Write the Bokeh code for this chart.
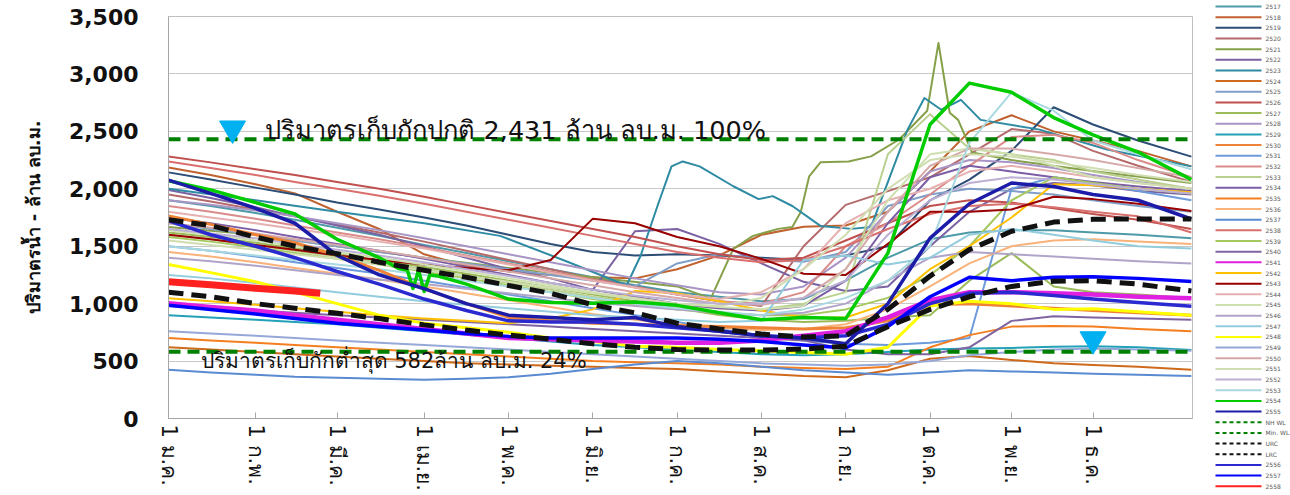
from bokeh.plotting import figure
from bokeh.layouts import row
from bokeh.models import (FixedTicker, NumeralTickFormatter, Range1d, Label)
from bokeh.embed import file_html
from bokeh.resources import INLINE
from bokeh.core.properties import value

# ---------------- data ----------------
# day-of-year grid used by most series
G = [0, 15, 31, 45, 60, 75, 91, 106, 121, 136, 151, 166, 181, 196, 211, 226, 241, 256, 271, 285, 300, 315, 329, 345, 364]

TICK_DAYS = [0, 31, 60, 91, 121, 151, 181, 211, 241, 271, 300, 329]
TICK_LABELS = ["1 ม.ค.", "1 ก.พ.", "1 มี.ค.", "1 เม.ย.", "1 พ.ค.", "1 มิ.ย.",
               "1 ก.ค.", "1 ส.ค.", "1 ก.ย.", "1 ต.ค.", "1 พ.ย.", "1 ธ.ค."]
Y_TICKS = [0, 500, 1000, 1500, 2000, 2500, 3000, 3500]

NH_WL = 2431
MIN_WL = 582

Y2517 = [1900,1850,1790,1730,1660,1590,1510,1440,1370,1300,1230,1160,1100,1060,1020,1040,1200,1400,1560,1620,1640,1640,1620,1600,1570]
Y2518 = [2186,2120,2040,1960,1800,1650,1430,1330,1280,1250,1230,1220,1300,1420,1600,1670,1680,1800,2150,2500,2640,2500,2420,2330,2195]
Y2519 = [2143,2080,2010,1950,1880,1820,1750,1680,1600,1520,1450,1420,1430,1420,1400,1380,1420,1500,1900,2080,2330,2710,2560,2420,2280]
Y2520 = [1950,1890,1820,1760,1690,1620,1540,1460,1380,1300,1220,1150,1080,1020,980,1500,1860,1980,2100,2300,2520,2480,2330,2200,2060]
D2521 = [0,31,60,91,121,151,181,193,201,208,217,222,225,228,232,242,250,260,270,274,278,281,286,300,330,364]
Y2521 = [1668,1600,1500,1400,1310,1230,1150,1046,1478,1590,1651,1668,1798,2109,2230,2238,2282,2429,2680,3270,2662,2600,2316,2250,2150,2050]
Y2522 = [1990,1920,1840,1760,1680,1600,1500,1400,1300,1220,1120,1630,1650,1520,1350,1190,1110,1150,1500,1800,2000,2050,2030,1980,1950]
D2523 = [0,31,60,91,118,142,163,168,174,179,183,189,201,210,215,222,232,243,250,263,269,275,282,289,310,334,364]
Y2523 = [2000,1900,1800,1700,1590,1365,1158,1417,1850,2195,2238,2195,2022,1910,1936,1850,1677,1651,1668,2515,2790,2688,2774,2600,2515,2342,2195]
Y2524 = [620,600,580,560,540,520,500,480,470,460,450,440,430,410,390,370,360,420,520,545,510,480,465,450,424]
Y2525 = [1700,1650,1600,1550,1500,1450,1400,1350,1300,1250,1200,1150,1350,1430,1390,1365,1450,1850,1950,2000,1980,1950,1900,1850,1800]
Y2526 = [2282,2230,2170,2120,2060,2000,1930,1860,1790,1720,1650,1580,1500,1430,1380,1400,1550,1700,1850,1900,1880,1830,1780,1730,1650]
Y2527 = [1620,1580,1530,1480,1430,1380,1320,1260,1200,1140,1080,1020,960,900,860,840,850,880,900,1200,1440,1150,1100,1080,1050]
Y2528 = [1900,1860,1810,1760,1700,1640,1570,1500,1430,1360,1290,1220,1160,1100,1080,1150,1400,1800,2150,2250,2230,2180,2120,2060,2000]
Y2529 = [899,880,860,840,820,790,760,730,700,670,640,620,600,580,560,550,560,580,600,610,614,625,630,620,596]
Y2530 = [1763,1690,1600,1530,1420,1290,1130,1000,880,850,830,820,810,800,790,780,790,850,990,1000,980,960,940,920,900]
Y2531 = [1500,1460,1410,1360,1310,1260,1200,1140,1080,1020,960,900,840,780,720,680,650,640,660,700,2000,2100,2050,1980,1900]
Y2532 = [1850,1800,1740,1680,1620,1560,1490,1420,1350,1280,1210,1140,1080,1020,1000,1100,1500,1700,1950,2200,2450,2470,2400,2250,2100]
Y2533 = [1600,1560,1510,1460,1410,1360,1300,1240,1180,1120,1060,1010,980,960,950,1000,1100,2300,2650,2350,2300,2250,2150,2080,2000]
Y2534 = [1750,1700,1640,1580,1520,1460,1390,1320,1250,1180,1120,1060,1000,960,940,980,1200,1700,2100,2200,2150,2100,2060,2020,1980]
Y2535 = [700,680,660,640,620,600,580,560,540,520,500,490,480,470,450,440,430,450,620,726,800,805,800,780,760]
Y2536 = [1450,1410,1360,1310,1260,1210,1150,1090,1030,970,910,860,820,790,770,780,820,950,1150,1350,1500,1550,1560,1540,1520]
Y2537 = [424,400,380,363,355,345,337,345,360,390,430,470,500,480,450,420,400,380,400,420,410,400,390,380,370]
Y2538 = [2238,2180,2120,2060,2000,1940,1870,1800,1730,1660,1590,1520,1450,1400,1360,1380,1500,1650,1780,1850,1870,1840,1800,1760,1620]
Y2539 = [1580,1540,1490,1440,1390,1340,1280,1220,1160,1100,1040,990,950,920,900,900,950,1050,1250,1500,1900,2100,2050,2000,1960]
Y2540 = [980,960,940,920,900,880,860,840,820,800,780,760,740,720,700,680,600,560,560,620,850,890,880,870,860]
Y2541 = [1003,970,940,900,860,820,780,740,700,690,680,670,660,660,680,720,760,880,1030,1100,1100,1090,1080,1060,1046]
Y2542 = [1046,1020,990,960,930,900,870,850,830,870,950,1110,1090,1020,940,880,880,1000,1300,1500,1750,2040,2030,2000,1970]
Y2543 = [1600,1560,1510,1470,1420,1380,1340,1310,1290,1380,1740,1700,1580,1500,1390,1260,1250,1520,1800,1800,1820,1930,1910,1870,1806]
Y2544 = [1800,1750,1700,1650,1600,1540,1480,1410,1340,1270,1200,1140,1080,1040,1100,1300,1700,1900,2000,2150,2200,2150,2100,2050,2000]
Y2545 = [1640,1600,1550,1500,1450,1400,1340,1280,1220,1160,1100,1050,1000,970,950,980,1300,1900,2300,2350,2300,2200,2100,2050,2000]
Y2546 = [1400,1370,1330,1290,1250,1210,1170,1130,1090,1050,1010,980,950,920,900,920,1000,1200,1400,1450,1430,1410,1390,1370,1350]
Y2547 = [1250,1220,1180,1140,1100,1060,1020,990,960,930,900,880,860,840,850,1380,1420,1340,1400,1600,1650,1600,1550,1500,1480]
Y2548 = [1340,1270,1190,1100,1000,900,830,790,750,700,670,630,620,600,590,575,560,620,980,1020,1000,950,955,930,900]
Y2549 = [760,740,720,700,680,660,640,620,600,580,560,540,520,500,480,470,460,470,500,550,580,600,610,600,590]
Y2550 = [1700,1660,1610,1560,1510,1460,1400,1340,1280,1220,1160,1100,1050,1000,990,1050,1300,1800,2200,2350,2350,2300,2250,2180,2100]
Y2551 = [1550,1510,1470,1430,1390,1340,1290,1240,1190,1140,1090,1040,1000,980,1050,1300,1600,2000,2250,2300,2280,2230,2180,2120,2060]
Y2552 = [1650,1610,1570,1520,1470,1420,1360,1300,1240,1180,1120,1070,1030,1000,1000,1050,1200,1600,1900,2050,2100,2080,2040,2000,1960]
Y2553 = [1500,1460,1420,1380,1340,1300,1250,1200,1150,1100,1050,1000,960,930,900,950,1050,1200,1500,2400,2840,2680,2420,2300,2170]
D2554 = [0,15,31,45,60,75,82,85,87,89,91,93,96,106,121,136,151,166,181,196,211,226,241,256,271,285,300,315,329,345,364]
Y2554 = [2070,1990,1880,1780,1560,1400,1305,1290,1132,1290,1106,1250,1240,1170,1040,1010,1003,1015,985,920,860,880,870,1440,2560,2920,2840,2620,2470,2320,2080]
Y2555 = [2075,1960,1830,1700,1420,1250,1130,1000,900,880,860,880,800,760,720,700,650,1000,1570,1870,2050,2020,1950,1900,1737]
Y2556 = [1720,1600,1500,1400,1280,1170,1040,940,850,840,840,820,790,760,720,700,720,820,1000,1090,1100,1070,1040,1010,977]
Y2557 = [986,950,910,870,830,800,770,740,715,700,700,700,700,690,670,640,614,800,1060,1230,1200,1230,1235,1220,1193]
D2558 = [0,15,31,45,54]
Y2558 = [1190,1165,1135,1110,1090]
URC = [1730,1680,1580,1500,1435,1360,1290,1230,1158,1090,990,920,830,780,735,710,720,950,1240,1470,1630,1710,1735,1737,1737]
LRC = [1100,1060,1000,960,916,870,815,770,726,690,650,620,600,596,596,605,630,800,950,1060,1150,1195,1200,1170,1110]

MARK_DAYS = [22.8, 329]
MARK_VALS = [2525, 690]
TXT_NH = "ปริมาตรเก็บกักปกติ 2,431 ล้าน ลบ.ม. 100%"
TXT_MIN = "ปริมาตรเก็บกักต่ำสุด 582ล้าน ลบ.ม. 24%"
Y_TITLE = "ปริมาตรน้ำ - ล้าน ลบ.ม."

# ---------------- assembly ----------------
YEARS = {2517: Y2517, 2518: Y2518, 2519: Y2519, 2520: Y2520, 2521: Y2521, 2522: Y2522,
         2523: Y2523, 2524: Y2524, 2525: Y2525, 2526: Y2526, 2527: Y2527, 2528: Y2528,
         2529: Y2529, 2530: Y2530, 2531: Y2531, 2532: Y2532, 2533: Y2533, 2534: Y2534,
         2535: Y2535, 2536: Y2536, 2537: Y2537, 2538: Y2538, 2539: Y2539, 2540: Y2540,
         2541: Y2541, 2542: Y2542, 2543: Y2543, 2544: Y2544, 2545: Y2545, 2546: Y2546,
         2547: Y2547, 2548: Y2548, 2549: Y2549, 2550: Y2550, 2551: Y2551, 2552: Y2552,
         2553: Y2553, 2554: Y2554, 2555: Y2555, 2556: Y2556, 2557: Y2557, 2558: Y2558}
DAYS = {2521: D2521, 2523: D2523, 2554: D2554, 2558: D2558}

COLORS = {2517: "#4E9AA8", 2518: "#C0622F", 2519: "#2C4D75", 2520: "#B56B6B", 2521: "#86A04A",
          2522: "#7B62A3", 2523: "#2E8BA3", 2524: "#CF6A1C", 2525: "#7F9FC8", 2526: "#C0504D",
          2527: "#9BBB59", 2528: "#A895C5", 2529: "#23A1B8", 2530: "#EE8236", 2531: "#6C9BDB",
          2532: "#D98C8A", 2533: "#B9D08E", 2534: "#7B5EA6", 2535: "#F57F20", 2536: "#F9B27A",
          2537: "#5A8AD0", 2538: "#D9706E", 2539: "#A5C85F", 2540: "#8064A2", 2541: "#E020E0",
          2542: "#FFC000", 2543: "#990000", 2544: "#E6B0B0", 2545: "#CFE0B0", 2546: "#B0A4C8",
          2547: "#93CDDD", 2548: "#FFFF00", 2549: "#95A8D8", 2550: "#D6A9A9", 2551: "#D0DDB0",
          2552: "#BCB0D4", 2553: "#A8D8E0", 2554: "#00CC00", 2555: "#1C1CA8", 2556: "#2A2AD0",
          2557: "#0000FF", 2558: "#FF2020"}
WIDTHS = {2530: 3.0, 2541: 4.5, 2548: 3.0, 2554: 3.5, 2555: 3.5, 2556: 3.5, 2557: 3.5, 2558: 7.0}
TOP_ORDER = [2530, 2548, 2541, 2554, 2556, 2557, 2555]

FONT_NUM = "DejaVu Sans"
FONT_TH = "DejaVu Sans"

W_MAIN, W_LEG, H = 1198, 92, 493

p = figure(width=W_MAIN, height=H, x_range=Range1d(0, 364.4), y_range=Range1d(0, 3500),
           output_backend="svg", toolbar_location=None,
           min_border_left=168, min_border_right=6, min_border_top=16, min_border_bottom=72)
p.background_fill_color = "white"
p.border_fill_color = "white"
p.outline_line_color = "#BFBFBF"

def draw(yr):
    xs = DAYS.get(yr, G)
    p.line(xs, YEARS[yr], line_color=COLORS[yr], line_width=WIDTHS.get(yr, 2.0),
           line_join="round")

for yr in sorted(YEARS):
    if yr not in TOP_ORDER and yr != 2558:
        draw(yr)
for yr in TOP_ORDER:
    draw(yr)

ends = [0, 364.4]
p.line(ends, [NH_WL, NH_WL], line_color="#008000", line_width=4, line_dash="12 7")
p.line(ends, [MIN_WL, MIN_WL], line_color="#008000", line_width=4, line_dash="12 7")
p.line(G, URC, line_color="#111111", line_width=5, line_dash="15 8")
p.line(G, LRC, line_color="#111111", line_width=5, line_dash="15 8")
draw(2558)

p.scatter(MARK_DAYS, MARK_VALS, marker="inverted_triangle", size=26, fill_color="#00B0F0",
          line_color="#00B0F0")

p.add_layout(Label(x=34.5, y=2515, text=TXT_NH, text_font=FONT_TH, text_font_size="25.5px",
                   text_baseline="middle", text_color="#111111"))
p.add_layout(Label(x=11.4, y=500, text=TXT_MIN, text_font=FONT_TH, text_font_size="21px",
                   text_baseline="middle", text_color="#111111"))

# axes
p.xgrid.visible = False
p.ygrid.grid_line_color = "#C8C8C8"
p.ygrid.ticker = FixedTicker(ticks=Y_TICKS)

ya = p.yaxis[0]
ya.ticker = FixedTicker(ticks=Y_TICKS)
ya.formatter = NumeralTickFormatter(format="0,0")
ya.major_label_text_font = FONT_NUM
ya.major_label_text_font_style = "bold"
ya.major_label_text_font_size = "22px"
ya.major_label_text_color = "#111111"
ya.major_tick_out = 0
ya.major_tick_in = 0
ya.minor_tick_out = 0
ya.minor_tick_in = 0
ya.major_label_standoff = 30
ya.axis_line_color = "#A6A6A6"
ya.axis_label = Y_TITLE
ya.axis_label_text_font = FONT_TH
ya.axis_label_text_font_style = "bold"
ya.axis_label_text_font_size = "18px"
ya.axis_label_standoff = 22
ya.axis_label_text_color = "#111111"

xa = p.xaxis[0]
xa.ticker = FixedTicker(ticks=TICK_DAYS)
xa.major_label_overrides = {d: t for d, t in zip(TICK_DAYS, TICK_LABELS)}
xa.major_label_orientation = "vertical"
xa.major_label_text_font = FONT_TH
xa.major_label_text_font_size = "21px"
xa.major_label_text_color = "#111111"
xa.major_tick_in = 6
xa.major_tick_out = 0
xa.minor_tick_in = 0
xa.minor_tick_out = 0
xa.major_tick_line_color = "#A6A6A6"
xa.axis_line_color = "#A6A6A6"
xa.major_label_standoff = 6

# ---------------- legend panel (separate narrow figure, drawn by hand) ----------------
LEG_LABELS = [str(yr) for yr in range(2517, 2556)] + ["NH WL", "Min. WL", "URC", "LRC"] + \
             [str(yr) for yr in (2556, 2557, 2558)]
LEG_COLORS = [COLORS[yr] for yr in range(2517, 2556)] + ["#008000", "#008000", "#111111", "#111111"] + \
             [COLORS[yr] for yr in (2556, 2557, 2558)]
LEG_DASHED = [False] * 39 + [True] * 4 + [False] * 3

lg = figure(frame_width=W_LEG, frame_height=H, x_range=Range1d(0, W_LEG), y_range=Range1d(H, 0),
            output_backend="svg", toolbar_location=None,
            min_border_left=0, min_border_right=0, min_border_top=0, min_border_bottom=0,
            x_axis_location=None, y_axis_location=None, title=None)
try:
    lg.frame_align = False
    p.frame_align = False
except Exception:
    pass
lg.outline_line_color = None
lg.xgrid.visible = False
lg.ygrid.visible = False
lg.background_fill_color = "white"
lg.border_fill_color = "white"

PITCH = 10.66
centres = [6 + PITCH * i for i in range(len(LEG_LABELS))]
for dashed in (False, True):
    idx = [i for i in range(len(LEG_LABELS)) if LEG_DASHED[i] == dashed]
    lg.segment(x0=[17] * len(idx), x1=[63] * len(idx),
               y0=[centres[i] for i in idx], y1=[centres[i] for i in idx],
               line_color=[LEG_COLORS[i] for i in idx], line_width=2,
               line_dash="4 3" if dashed else "solid")
lg.text(x=[67] * len(LEG_LABELS), y=centres, text=LEG_LABELS,
        text_font=value(FONT_NUM), text_font_size="6px", text_color="#595959",
        text_baseline="middle", text_align="left")

open("out.html", "w").write(file_html(row(p, lg), INLINE))
